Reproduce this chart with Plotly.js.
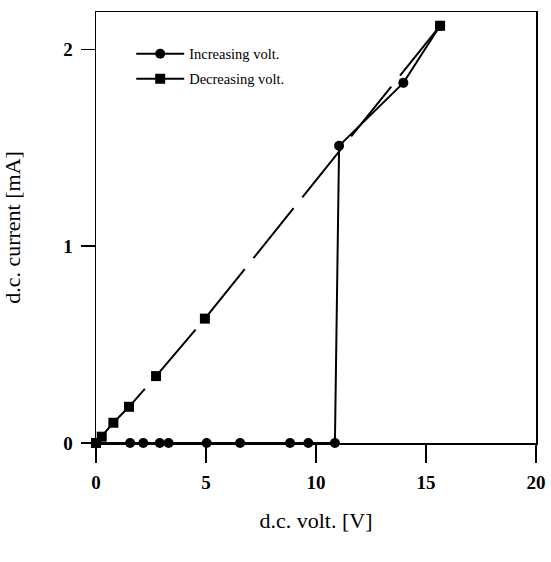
<!DOCTYPE html>
<html>
<head>
<meta charset="utf-8">
<script src="https://cdn.plot.ly/plotly-3.0.1.min.js"></script>
<style>
  html, body { margin: 0; padding: 0; background: #fff; }
  #chart { width: 551px; height: 562px; }
</style>
</head>
<body>
<div id="chart"></div>
<script>
// Increasing voltage series (circles)
const incVolt = [0, 1.55, 2.15, 2.9, 3.3, 5.03, 6.55, 8.82, 9.65, 10.86, 11.05, 13.97, 15.64];
const incCurrent = [0, 0, 0, 0, 0, 0, 0, 0, 0, 0, 1.51, 1.83, 2.12];
// Decreasing voltage series (squares)
const decVolt = [15.64, 4.95, 2.73, 1.5, 0.79, 0.26, 0];
const decCurrent = [2.12, 0.632, 0.34, 0.184, 0.103, 0.032, 0];
// Axis ticks
const xTicks = [0, 5, 10, 15, 20];
const yTicks = [0, 1, 2];
const seriesNames = ['Increasing volt.', 'Decreasing volt.'];

const serif = 'Liberation Serif, Times New Roman, serif';

const traces = [
  {
    x: incVolt, y: incCurrent, name: seriesNames[0], type: 'scatter', mode: 'lines+markers',
    line: {color: '#000', width: 2},
    marker: {symbol: 'circle', size: 10, color: '#000'},
    cliponaxis: false, legendgroup: 'a'
  },
  {
    x: decVolt, y: decCurrent, name: seriesNames[1], type: 'scatter', mode: 'lines+markers',
    line: {color: '#000', width: 2, dash: '64px,14px'},
    marker: {symbol: 'square', size: 10, color: '#000'},
    cliponaxis: false, legendgroup: 'b'
  }
];

const layout = {
  width: 551, height: 562,
  margin: {l: 96, r: 15, t: 12, b: 119},
  paper_bgcolor: '#fff', plot_bgcolor: '#fff',
  font: {family: serif, color: '#000'},
  showlegend: true,
  legend: {
    x: 0.08, y: 0.94, xanchor: 'left', yanchor: 'top',
    bgcolor: 'rgba(0,0,0,0)', borderwidth: 0,
    font: {family: serif, size: 14.5, color: '#000'},
    traceorder: 'grouped', tracegroupgap: 3, itemwidth: 48
  },
  xaxis: {
    range: [0, 20], tickvals: xTicks, ticktext: xTicks.map(String),
    ticks: 'outside', ticklen: 18, tickwidth: 1.5, tickcolor: '#000',
    showline: true, linecolor: '#000', linewidth: 1.5, mirror: true,
    showgrid: false, zeroline: false,
    tickfont: {family: serif, size: 19, weight: 'bold', color: '#000'},
    ticklabelstandoff: 4,
    title: {text: 'd.c. volt. [V]', font: {family: serif, size: 22, color: '#000'}, standoff: 20}
  },
  yaxis: {
    range: [0, 2.19], tickvals: yTicks, ticktext: yTicks.map(String),
    ticks: 'outside', ticklen: 14, tickwidth: 1.5, tickcolor: '#000',
    showline: true, linecolor: '#000', linewidth: 1.5, mirror: true,
    showgrid: false, zeroline: false,
    tickfont: {family: serif, size: 19, weight: 'bold', color: '#000'},
    ticklabelstandoff: 4,
    title: {text: 'd.c. current [mA]', font: {family: serif, size: 22, color: '#000'}, standoff: 36}
  }
};

Plotly.newPlot('chart', traces, layout, {displayModeBar: false, staticPlot: true});
</script>
</body>
</html>
